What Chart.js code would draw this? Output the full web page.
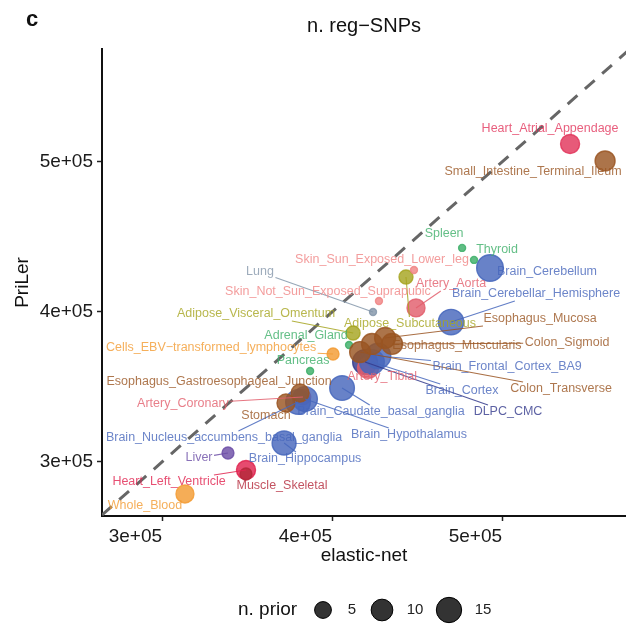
<!DOCTYPE html>
<html>
<head>
<meta charset="utf-8">
<title>n. reg-SNPs</title>
<script src="https://cdn.jsdelivr.net/npm/chart.js@4.4.1/dist/chart.umd.min.js"></script>
<style>
  html, body { margin: 0; padding: 0; background: #fff; }
  canvas { display: block; }
</style>
</head>
<body>
<canvas id="regSnps" width="626" height="627"></canvas>
<script>
// Tissues, drawn in this order (later ones sit on top)
const tissues = [
  "Whole_Blood", "Heart_Left_Ventricle", "Muscle_Skeletal", "Liver", "Brain_Hippocampus",
  "Artery_Coronary", "Brain_Nucleus_accumbens_basal_ganglia", "Brain_Hypothalamus", "Stomach",
  "Esophagus_Gastroesophageal_Junction", "Brain_Caudate_basal_ganglia", "Pancreas",
  "Cells_EBV-transformed_lymphocytes", "Adrenal_Gland", "DLPC_CMC", "Artery_Tibial", "Brain_Cortex",
  "Brain_Frontal_Cortex_BA9", "Colon_Transverse", "Esophagus_Muscularis", "Esophagus_Mucosa",
  "Colon_Sigmoid", "Adipose_Visceral_Omentum", "Lung", "Skin_Not_Sun_Exposed_Suprapubic",
  "Brain_Cerebellar_Hemisphere", "Artery_Aorta", "Adipose_Subcutaneous", "Skin_Sun_Exposed_Lower_leg",
  "Thyroid", "Spleen", "Brain_Cerebellum", "Small_Intestine_Terminal_Ileum", "Heart_Atrial_Appendage"
];

// n. reg-SNPs found by each method
const elasticNet = [
  313500, 349400, 349400, 338800, 371800,
  382900, 380000, 384100, 372900,
  381200, 405900, 387100,
  400600, 410000, 419400, 421200, 423500,
  427100, 416500, 423500, 431200,
  435300, 412400, 424100, 427600,
  470000, 449400, 443500, 448200,
  483500, 476500, 492900, 560600, 540000
];
const priLer = [
  278700, 294700, 292000, 306000, 312700,
  343300, 340000, 342000, 339300,
  346000, 349300, 360700,
  372000, 378000, 366700, 362700, 366700,
  370700, 373300, 378700, 382700,
  378700, 386000, 400000, 407300,
  393300, 402700, 423300, 428000,
  434700, 442700, 429300, 500700, 512000
];
// number of prior features per tissue
const nPrior = [
  6, 7, 2, 2, 13,
  4, 14, 14, 6,
  6, 14, 1,
  2, 1, 14, 9, 14,
  15, 9, 9, 9,
  9, 3, 1, 1,
  15, 6, 3, 1,
  1, 1, 17, 8, 7
];

const axisTicks = [300000, 400000, 500000];
const axisTickLabels = ["3e+05", "4e+05", "5e+05"];
const legendPriors = [5, 10, 15];

// tissue colours
const tissueColors = {
  Whole_Blood: "#F39B32", Cells_EBV_transformed_lymphocytes: "#F39B32",
  Heart_Left_Ventricle: "#E1234F", Heart_Atrial_Appendage: "#E2365C",
  Muscle_Skeletal: "#B4283A", Liver: "#6C4EA6", Lung: "#8496AA",
  Artery_Coronary: "#E25E6C", Artery_Tibial: "#E25E6C", Artery_Aorta: "#E25E6C",
  Stomach: "#9A5522", Esophagus_Gastroesophageal_Junction: "#9A5522", Colon_Transverse: "#9A5522",
  Esophagus_Muscularis: "#9A5522", Esophagus_Mucosa: "#9A5522", Colon_Sigmoid: "#9A5522",
  Small_Intestine_Terminal_Ileum: "#9A5522",
  Pancreas: "#3DAF69", Adrenal_Gland: "#3DAF69", Thyroid: "#3DAF69", Spleen: "#3DAF69",
  Adipose_Visceral_Omentum: "#A6A521", Adipose_Subcutaneous: "#A6A521",
  Skin_Not_Sun_Exposed_Suprapubic: "#F08585", Skin_Sun_Exposed_Lower_leg: "#F08585",
  DLPC_CMC: "#33398C"
};
function colorOf(name) {
  const key = name.replace(/-/g, "_");
  return tissueColors[key] || "#4767BC"; // brain regions
}

// label placement around each point: [dx, dy, draw segment]
const labelLayout = [
  [-40, 12, 0], [-77, 12, 1], [36, 12, 0], [-29, 5, 1], [21, 16, 1],
  [-120, 7, 1], [-74, 36, 1], [104, 36, 1], [-20, 13, 0],
  [-81, -11, 0], [39, 24, 1], [-7, -10, 0],
  [-122, -6, 1], [-43, -9, 0], [143, 50, 1], [14, 9, 0], [90, 29, 1],
  [129, 11, 1], [201, 37, 1], [85, 2, 0], [155, -19, 1],
  [175, -1, 1], [-97, -19, 1], [-113, -40, 1], [-51, -9, 0],
  [85, -28, 1], [35, -24, 1], [4, 47, 1], [-32, -10, 0],
  [23, -10, 0], [-18, -14, 0], [57, 4, 0], [-72, 11, 0], [-20, -15, 0]
];

const FONT = '"Liberation Sans", Arial, Helvetica, sans-serif';

// area-style size scale for n. prior
function priorRadius(n) {
  return 3.5 + 2.45 * Math.sqrt(n - 1);
}

function withAlpha(hex, a) {
  const v = parseInt(hex.slice(1), 16);
  return `rgba(${v >> 16}, ${(v >> 8) & 255}, ${v & 255}, ${a})`;
}

const xRange = [264700, 572900];
const yRange = [264000, 575300];

// Labels with repel-style connector segments
const tissueLabels = {
  id: "tissueLabels",
  afterDatasetsDraw(chart) {
    const ctx = chart.ctx;
    const xs = chart.scales.x, ys = chart.scales.y;
    ctx.save();
    ctx.font = `12.5px ${FONT}`;
    ctx.textAlign = "center";
    ctx.textBaseline = "middle";
    const placed = tissues.map((name, i) => {
      const px = xs.getPixelForValue(elasticNet[i]);
      const py = ys.getPixelForValue(priLer[i]);
      const [dx, dy, seg] = labelLayout[i];
      const text = name.replace(/-/g, "\u2212");
      return { px, py, cx: px + dx, cy: py + dy, seg, text, color: colorOf(name) };
    });

    // segments first
    ctx.lineWidth = 1.1;
    placed.forEach(l => {
      if (!l.seg) return;
      const hw = ctx.measureText(l.text).width / 2 + 1.5, hh = 7;
      const vx = l.px - l.cx, vy = l.py - l.cy;
      if (Math.abs(vx) <= hw && Math.abs(vy) <= hh) return;
      const k = Math.min(vx ? hw / Math.abs(vx) : Infinity, vy ? hh / Math.abs(vy) : Infinity);
      ctx.strokeStyle = withAlpha(l.color, 0.85);
      ctx.beginPath();
      ctx.moveTo(l.px, l.py);
      ctx.lineTo(l.cx + vx * k, l.cy + vy * k);
      ctx.stroke();
    });

    placed.forEach(l => {
      ctx.fillStyle = withAlpha(l.color, 0.8);
      ctx.fillText(l.text, l.cx, l.cy);
    });
    ctx.restore();
  }
};

// Panel letter, titles and the size legend
const decorations = {
  id: "decorations",
  afterDraw(chart) {
    const ctx = chart.ctx;
    const area = chart.chartArea;
    const midX = (area.left + area.right) / 2;
    ctx.save();
    ctx.fillStyle = "#111";
    ctx.textBaseline = "middle";

    ctx.font = `bold 22px ${FONT}`;
    ctx.textAlign = "center";
    ctx.fillText("c", 32, 20);

    ctx.font = `20px ${FONT}`;
    ctx.fillText("n. reg\u2212SNPs", midX, 26);

    ctx.font = `19px ${FONT}`;
    ctx.fillText("elastic-net", midX, 556);

    ctx.save();
    ctx.translate(23, (area.top + area.bottom) / 2);
    ctx.rotate(-Math.PI / 2);
    ctx.fillText("PriLer", 0, 0);
    ctx.restore();

    // size legend
    const ly = 610;
    ctx.textAlign = "left";
    ctx.fillText("n. prior", 238, ly);
    const slots = [[323, 352], [382, 415], [449, 483]];
    legendPriors.forEach((n, i) => {
      const [cx, tx] = slots[i];
      ctx.beginPath();
      ctx.arc(cx, ly, priorRadius(n), 0, Math.PI * 2);
      ctx.fillStyle = "#333";
      ctx.fill();
      ctx.lineWidth = 1;
      ctx.strokeStyle = "#000";
      ctx.stroke();
      ctx.fillStyle = "#222";
      ctx.font = `15px ${FONT}`;
      ctx.textAlign = "center";
      ctx.fillText(String(n), tx, ly);
    });
    ctx.restore();
  }
};

const tickSetup = {
  afterBuildTicks: axis => { axis.ticks = axisTicks.map(v => ({ value: v })); },
  border: { display: true, color: "#111", width: 2 },
  grid: { drawOnChartArea: false, drawTicks: true, tickLength: 5, tickColor: "#222", tickWidth: 1.5 }
};

new Chart(document.getElementById("regSnps"), {
  type: "scatter",
  data: {
    datasets: [
      {
        // y = x reference
        type: "line",
        data: [{ x: xRange[0], y: xRange[0] }, { x: yRange[1] + 10000, y: yRange[1] + 10000 }],
        borderColor: "#666",
        borderWidth: 3,
        borderDash: [13, 10],
        pointRadius: 0,
        fill: false,
        order: 2
      },
      {
        data: tissues.map((t, i) => ({ x: elasticNet[i], y: priLer[i] })),
        pointRadius: nPrior.map(priorRadius),
        backgroundColor: tissues.map(t => withAlpha(colorOf(t), 0.82)),
        borderColor: tissues.map(t => withAlpha(colorOf(t), 0.85)),
        borderWidth: 1.4,
        order: 1
      }
    ]
  },
  options: {
    responsive: false,
    animation: false,
    layout: { autoPadding: false, padding: { top: 49, right: 0, bottom: 0, left: 0 } },
    plugins: { legend: { display: false }, tooltip: { enabled: false } },
    scales: {
      x: {
        type: "linear",
        min: xRange[0],
        max: xRange[1],
        ...tickSetup,
        afterFit: axis => {
          axis.height = 111;
          axis.paddingLeft = 0;
          axis.paddingRight = 0;
        },
        ticks: {
          align: "end",
          padding: 4,
          color: "#1a1a1a",
          font: { family: FONT, size: 19 },
          callback: v => axisTickLabels[axisTicks.indexOf(v)]
        }
      },
      y: {
        type: "linear",
        min: yRange[0],
        max: yRange[1],
        ...tickSetup,
        afterFit: axis => {
          axis.width = 102;
          axis.paddingTop = 0;
          axis.paddingBottom = 0;
        },
        ticks: {
          padding: 4,
          color: "#1a1a1a",
          font: { family: FONT, size: 19 },
          callback: v => axisTickLabels[axisTicks.indexOf(v)]
        }
      }
    }
  },
  plugins: [tissueLabels, decorations]
});
</script>
</body>
</html>
